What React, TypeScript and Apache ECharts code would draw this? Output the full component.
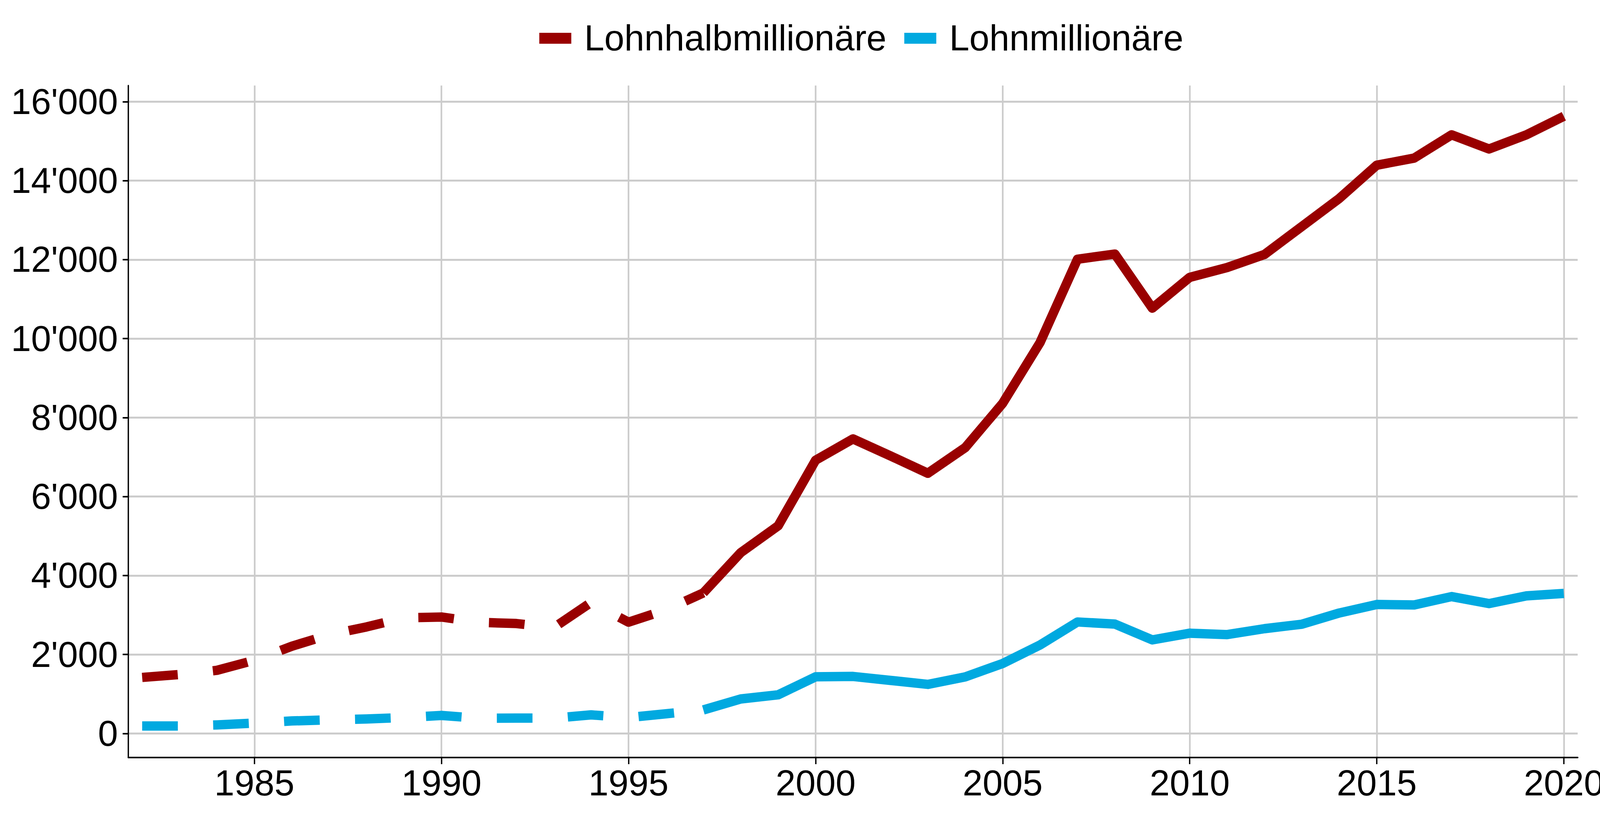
import React, { useEffect, useRef } from "react";
import * as echarts from "echarts";

const years = [
  1982, 1983, 1984, 1985, 1986, 1987, 1988, 1989, 1990, 1991, 1992, 1993, 1994,
  1995, 1996, 1997, 1998, 1999, 2000, 2001, 2002, 2003, 2004, 2005, 2006, 2007,
  2008, 2009, 2010, 2011, 2012, 2013, 2014, 2015, 2016, 2017, 2018, 2019, 2020,
];

const lohnhalbmillionaere = [
  1420, 1495, 1600, 1855, 2210, 2500, 2700, 2930, 2950, 2815, 2785, 2680, 3320,
  2820, 3130, 3560, 4580, 5260, 6920, 7460, 7030, 6590, 7240, 8360, 9900, 12010,
  12140, 10770, 11550, 11800, 12130, 12840, 13550, 14390, 14570, 15160, 14800, 15160, 15630,
];

const lohnmillionaere = [
  190, 190, 218, 264, 318, 347, 368, 405, 458, 385, 390, 390, 472,
  405, 500, 597, 875, 980, 1435, 1445, 1345, 1244, 1433, 1773, 2242, 2824,
  2771, 2370, 2540, 2505, 2655, 2768, 3052, 3267, 3256, 3467, 3290, 3486, 3547,
];

const seriesNames = ["Lohnhalbmillionäre", "Lohnmillionäre"];
const seriesColors = ["#990000", "#00a9e0"];
const dashedUntil = 1997;

const xTicks = [1985, 1990, 1995, 2000, 2005, 2010, 2015, 2020];
const yTicks = [0, 2000, 4000, 6000, 8000, 10000, 12000, 14000, 16000];

const FONT_REGULAR = "'Liberation Sans', Arial, Helvetica, sans-serif";
const FONT_NARROW = "'Liberation Sans Narrow', 'Arial Narrow', 'Liberation Sans', Arial, sans-serif";

function pairs(values: number[], from: number, to: number) {
  const out: number[][] = [];
  years.forEach((y, i) => {
    if (y >= from && y <= to) out.push([y, values[i]]);
  });
  return out;
}

function fmtThousands(v: number) {
  return String(Math.round(v)).replace(/\B(?=(\d{3})+(?!\d))/g, "'");
}

function measure(text: string, size: number, family: string) {
  const c = document.createElement("canvas");
  const ctx = c.getContext("2d");
  if (!ctx) return text.length * size * 0.5;
  ctx.font = `${size}px ${family}`;
  return ctx.measureText(text).width;
}

export default function App() {
  const ref = useRef<HTMLDivElement>(null);

  useEffect(() => {
    document.body.style.margin = "0";
    document.body.style.overflow = "hidden";
    document.documentElement.style.overflow = "hidden";
    const el = ref.current;
    if (!el) return;

    const W = Math.min(4800, window.innerWidth || 4800);
    const H = Math.min(2100, window.innerHeight || 2100);
    el.style.width = W + "px";
    el.style.height = H + "px";

    const sx = W / 4800;
    const sy = H / 2100;

    // Reference text: 108px Arial-like at 4800x2100.
    // If the canvas is narrower than the reference, use the narrow cut so that
    // the letters keep their height while their widths follow the horizontal scale.
    let family = FONT_REGULAR;
    let fontSize = 108 * Math.min(sx, sy);
    if (sx < 0.95) {
      const probe = "Lohnhalbmillionäre 16'000";
      const narrowW = measure(probe, 100, "'Liberation Sans Narrow', monospace");
      const monoW = measure(probe, 100, "monospace");
      const regW = measure(probe, 100, "'Liberation Sans', Arial, sans-serif");
      if (Math.abs(narrowW - monoW) > 1 && narrowW < regW * 0.95) {
        const ratio = narrowW / regW;
        family = FONT_NARROW;
        fontSize = Math.min(108 * sy, (108 * sx) / ratio);
      }
    }

    // legend placement so that the items land where the reference puts them
    const keyW = 96 * sx;
    const keyGapText = 39 * sx;
    const textPadLeft = Math.max(0, keyGapText - 5);
    const w1 = measure(seriesNames[0], fontSize, family);
    const secondKeyStart = 2707 * sx;
    const legendLeft = 1612 * sx;
    const itemGap = Math.max(
      10,
      secondKeyStart - (legendLeft + keyW + 5 + textPadLeft + w1)
    );

    const chart = echarts.init(el, null, { renderer: "svg", width: W, height: H });

    const allValues = [lohnhalbmillionaere, lohnmillionaere];
    const series: any[] = [];
    allValues.forEach((vals, k) => {
      const base = {
        name: seriesNames[k],
        type: "line",
        showSymbol: false,
        symbol: "none",
        color: seriesColors[k],
        itemStyle: { color: seriesColors[k] },
        z: 3,
      };
      series.push({
        ...base,
        data: pairs(vals, -Infinity, dashedUntil),
        lineStyle: {
          color: seriesColors[k],
          width: 24 * sy,
          type: [107 * sx, 106 * sx],
          cap: "butt",
          join: "round",
        },
      });
      series.push({
        ...base,
        data: pairs(vals, dashedUntil, Infinity),
        lineStyle: {
          color: seriesColors[k],
          width: 24 * sy,
          type: "solid",
          cap: "butt",
          join: "round",
        },
      });
    });

    chart.setOption({
      animation: false,
      backgroundColor: "#ffffff",
      textStyle: { fontFamily: family },
      legend: {
        show: true,
        left: legendLeft,
        top: 93 * sy - fontSize / 2,
        orient: "horizontal",
        icon: "rect",
        itemWidth: keyW,
        itemHeight: 28 * sy,
        itemGap,
        selectedMode: false,
        data: seriesNames.map((n, k) => ({
          name: n,
          itemStyle: { color: seriesColors[k], borderWidth: 0 },
        })),
        textStyle: {
          fontFamily: family,
          fontSize,
          color: "#000000",
          padding: [0, 0, 0, textPadLeft],
        },
      },
      grid: {
        left: 385 * sx,
        right: 67 * sx,
        top: 219 * sy,
        bottom: 160 * sy,
        containLabel: false,
        outerBoundsMode: "none",
      },
      xAxis: {
        type: "value",
        min: 1981.63,
        max: 2020.37,
        axisLine: {
          show: true,
          onZero: false,
          lineStyle: { color: "#000000", width: 4 * sy },
        },
        axisTick: {
          show: true,
          length: 17 * sy,
          customValues: xTicks,
          lineStyle: { color: "#000000", width: 4 * sx },
        },
        axisLabel: {
          show: true,
          customValues: xTicks,
          margin: 19 * sy,
          fontSize,
          fontFamily: family,
          color: "#000000",
          formatter: (v: number) => String(v),
        },
        splitLine: {
          show: true,
          lineStyle: { color: "#cccccc", width: 5 * sx },
        },
      },
      yAxis: {
        type: "value",
        min: -608,
        max: 16408,
        axisLine: {
          show: true,
          onZero: false,
          lineStyle: { color: "#000000", width: 4 * sx },
        },
        axisTick: {
          show: true,
          length: 17 * sx,
          customValues: yTicks,
          lineStyle: { color: "#000000", width: 4 * sy },
        },
        axisLabel: {
          show: true,
          customValues: yTicks,
          margin: 31 * sx,
          fontSize,
          fontFamily: family,
          color: "#000000",
          formatter: (v: number) => fmtThousands(v),
        },
        splitLine: {
          show: true,
          lineStyle: { color: "#cccccc", width: 5 * sy },
        },
      },
      series,
    });

    return () => {
      chart.dispose();
    };
  }, []);

  return <div ref={ref} style={{ width: 4800, height: 2100 }} />;
}
